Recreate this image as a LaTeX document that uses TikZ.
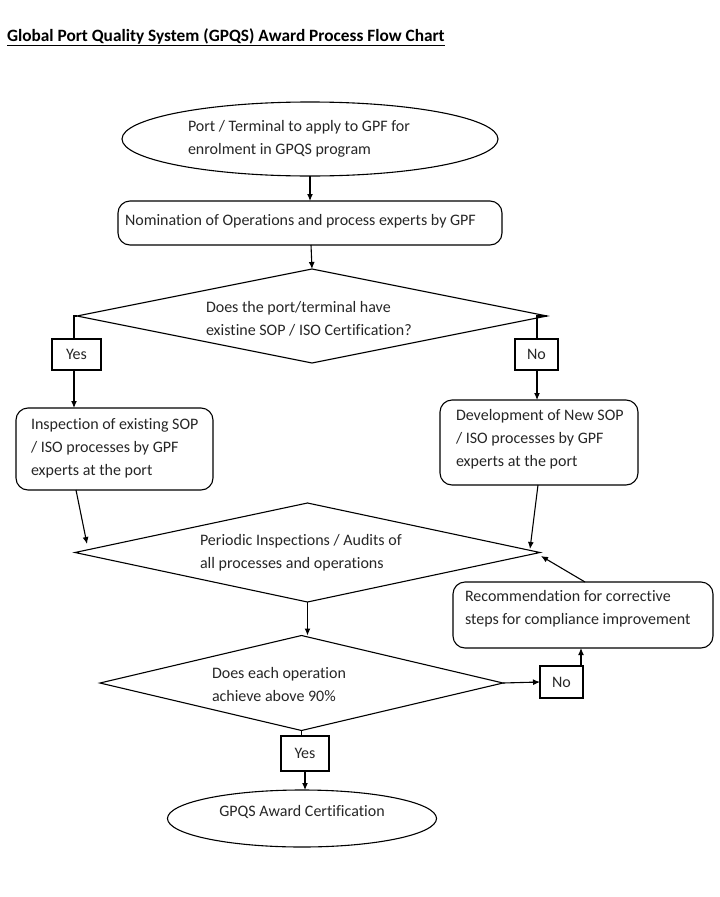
\documentclass[tikz,border=0pt]{standalone}
\usepackage{fontspec}
\setmainfont{Carlito}[Ligatures=NoCommon]
\usetikzlibrary{shapes.geometric,arrows.meta}
\begin{document}
\begin{tikzpicture}[x=1pt,y=-1pt,
  every node/.style={inner sep=0pt,outer sep=0pt},
  shapeline/.style={draw=black,line width=1.1pt},
  roundbox/.style={shapeline,rounded corners=12pt,anchor=north west},
  smallbox/.style={shapeline,anchor=north west,font=\fontsize{16}{18}\selectfont,text=black!85},
  oval/.style={shapeline,ellipse},
  decision/.style={shapeline,diamond},
  label/.style={anchor=west,align=left,font=\fontsize{16}{23}\selectfont,text=black!85},
  conn/.style={draw=black,line width=1.1pt},
  arr/.style={conn,-{Latex[length=7pt,width=6pt]}}
]
\useasboundingbox (0,0) rectangle (720,897);

% title
\node[anchor=west,font=\fontsize{17.3}{20}\selectfont\bfseries] (title) at (7,37)
  {\underline{Global Port Quality System (GPQS) Award Process Flow Chart}};

% shapes
\node[oval,minimum width=376pt,minimum height=74pt] (start) at (310,139) {};
\node[roundbox,minimum width=384pt,minimum height=44pt] (nom) at (118,201) {};
\node[decision,minimum width=470pt,minimum height=94pt] (d1) at (312,316) {};
\node[smallbox,minimum width=49pt,minimum height=31pt] (yes1) at (52,339) {Yes};
\node[smallbox,minimum width=43pt,minimum height=31pt] (no1) at (515,339) {No};
\node[roundbox,minimum width=197pt,minimum height=82pt] (insp) at (16,408) {};
\node[roundbox,minimum width=198pt,minimum height=85pt] (dev) at (440,400) {};
\node[decision,minimum width=465pt,minimum height=99pt] (d2) at (307.5,552.5) {};
\node[roundbox,minimum width=260pt,minimum height=66pt] (rec) at (453,582) {};
\node[decision,minimum width=403pt,minimum height=95pt] (d3) at (301.5,683) {};
\node[smallbox,minimum width=43pt,minimum height=32pt] (no2) at (540,666) {No};
\node[smallbox,minimum width=48pt,minimum height=35pt] (yes2) at (281,736) {Yes};
\node[oval,minimum width=269pt,minimum height=57pt] (end) at (302,818.5) {};

% texts
\node[label] (tstart) at (188,138.5) {Port / Terminal to apply to GPF for\\enrolment in GPQS program};
\node[label] (tnom) at (125,221) {Nomination of Operations and process experts by GPF};
\node[label] (td1) at (206,318.5) {Does the port/terminal have\\existine SOP / ISO Certification?};
\node[label] (tinsp) at (31,448) {Inspection of existing SOP\\/ ISO processes by GPF\\experts at the port};
\node[label] (tdev) at (456,439) {Development of New SOP\\/ ISO processes by GPF\\experts at the port};
\node[label] (td2) at (200,552.5) {Periodic Inspections / Audits of\\all processes and operations};
\node[label] (trec) at (465,608.5) {Recommendation for corrective\\steps for compliance improvement};
\node[label] (td3) at (212,685) {Does each operation\\achieve above 90\%};
\node[label,anchor=center] (tend) at (302,812) {GPQS Award Certification};

% free-end coordinates
\coordinate (p1) at (87,544);
\coordinate (p2) at (530,549);
\coordinate (p3) at (541,556);

% connectors
\draw[arr] (start.south) -- (nom.north -| start.south);
\draw[arr] ([xshift=1pt]nom.south) -- (d1.north);
\draw[conn] (d1.west) -| ([xshift=22pt]yes1.north west);
\draw[arr] ([xshift=22pt]yes1.south west) -- ([xshift=22pt]yes1.south west |- insp.north);
\draw[conn] (d1.east) -| ([xshift=22pt]no1.north west);
\draw[arr] ([xshift=22pt]no1.south west) -- ([xshift=22pt]no1.south west |- dev.north);
\draw[arr] ([xshift=60pt]insp.south west) -- (p1);
\draw[arr] ([xshift=-1pt]dev.south) -- (p2);
\draw[arr] ([xshift=2pt]rec.north) -- (p3);
\draw[arr] (d2.south) -- (d3.north -| d2.south);
\draw[arr] (d3.east) -- (no2.west);
\draw[arr] ([xshift=-2pt]no2.north east) -- ([xshift=-2pt]no2.north east |- rec.south);
\draw[conn] (d3.south) -- (d3.south |- yes2.north);
\draw[arr] (yes2.south) -- (end.north -| yes2.south);
\end{tikzpicture}
\end{document}
